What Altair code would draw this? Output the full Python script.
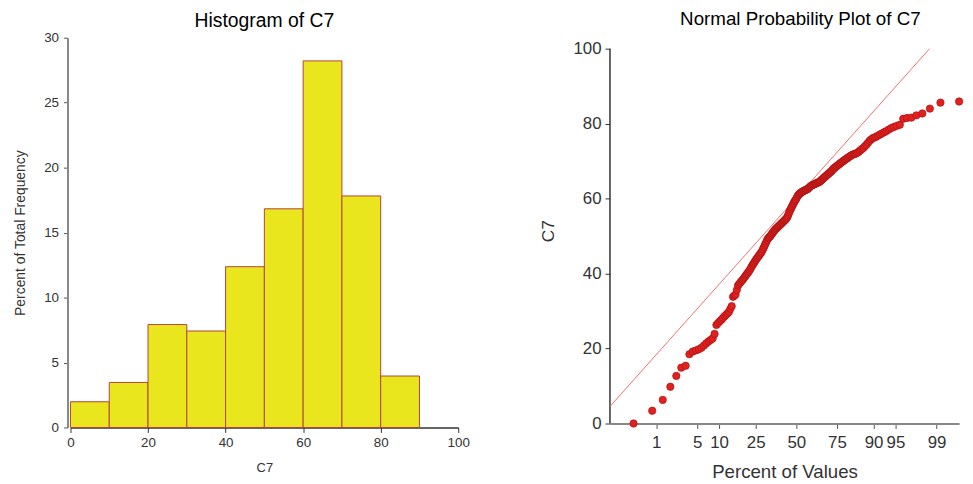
import altair as alt
import pandas as pd
from statistics import NormalDist

c7_values = [
    0.0, 3.4, 6.3, 9.8,
    12.7, 14.9, 15.4, 18.5, 19.2, 19.5, 19.8,
    20.2, 20.8, 21.4, 21.9, 22.3, 22.7, 23.9, 26.3, 26.8, 27.3, 27.7, 28.2, 28.6, 29.0, 29.4, 29.8,
    30.6, 31.3, 33.8, 34.1, 34.4, 35.6, 36.8, 37.2, 37.6, 38.0, 38.3, 38.7, 39.1, 39.5, 39.9,
    40.2, 40.6, 41.0, 41.5, 42.0, 42.4, 42.8, 43.2, 43.6, 44.0, 44.3, 44.6, 45.0, 45.3, 45.6, 46.0,
    46.5, 47.0, 47.5, 48.0, 48.5, 49.0, 49.4, 49.6, 49.8,
    50.1, 50.4, 50.7, 51.0, 51.3, 51.5, 51.8, 52.0, 52.2, 52.4, 52.6,
    52.8, 53.0, 53.2, 53.4, 53.6, 53.8, 54.0, 54.2, 54.4, 54.6, 54.9,
    55.3, 55.8, 56.3, 56.8, 57.2, 57.6, 58.0, 58.4, 58.8, 59.2, 59.5, 59.8,
    60.2, 60.6, 60.9, 61.1, 61.3, 61.5, 61.6, 61.8, 61.9, 62.0, 62.1, 62.2, 62.3, 62.4, 62.5,
    62.6, 62.8, 63.0, 63.2, 63.4, 63.5, 63.6, 63.7, 63.8, 63.9, 64.0, 64.1, 64.2, 64.3, 64.4, 64.5,
    64.7, 64.9, 65.1, 65.3, 65.5, 65.7, 65.9, 66.1, 66.3, 66.5, 66.7, 66.9, 67.1, 67.3,
    67.6, 67.9, 68.1, 68.3, 68.5, 68.7, 68.9, 69.1, 69.3, 69.5, 69.7, 69.9,
    70.1, 70.3, 70.5, 70.7, 70.9, 71.1, 71.3, 71.5, 71.7, 71.8, 71.9, 72.0, 72.2,
    72.4, 72.7, 73.0, 73.3, 73.6, 74.0, 74.4, 74.9,
    75.4, 75.8, 76.1, 76.3, 76.5, 76.8, 77.1, 77.4, 77.7, 78.0,
    78.4, 78.8, 79.1, 79.4, 79.7,
    81.3, 81.5, 81.6, 82.2, 82.7, 84.0, 85.6, 85.9,
]

hist_ticks_x = [0, 20, 40, 60, 80, 100]
hist_ticks_y = [0, 5, 10, 15, 20, 25, 30]
prob_pct_ticks = [1, 5, 10, 25, 50, 75, 90, 95, 99]
prob_ticks_y = [0, 20, 40, 60, 80, 100]
prob_y_axis_span = [0, 100]
ref_intercept = 60.2   # C7 value of the reference line at the 50th percentile
ref_slope = 18.0       # C7 units per standard normal unit
z_domain = [-3.092, 2.70]

FONT = "Liberation Sans"
HIST_H = 393
PROB_H = 389
PROB_W = 352
PROB_Y_TOP = 100 * PROB_H / 378.0   # headroom above 100 so the two panels' plot tops differ

df = pd.DataFrame({"C7": c7_values})

# ---------------- Histogram ----------------
hist = alt.Chart(df).transform_bin(
    as_=["bin_start", "bin_end"], field="C7", bin=alt.Bin(extent=[0, 100], step=10)
).transform_aggregate(
    cnt="count()", groupby=["bin_start", "bin_end"]
).transform_joinaggregate(
    total="sum(cnt)"
).transform_calculate(
    pct="datum.cnt / datum.total * 100"
).mark_bar(fill="#EAE61E", stroke="#B4423C", strokeWidth=1).encode(
    x=alt.X("bin_start:Q",
            scale=alt.Scale(domain=[0, 100], nice=False, zero=False),
            axis=alt.Axis(values=hist_ticks_x, title="C7", grid=False,
                          labelFont=FONT, labelFontSize=13.5, labelColor="#333333",
                          titleFont=FONT, titleFontSize=13, titleFontWeight="normal",
                          titleColor="#333333", titlePadding=13,
                          domainColor="#333333", domainWidth=1.5,
                          tickColor="#333333", tickSize=5, labelPadding=3,
                          labelFlush=False, labelOverlap=False)),
    x2="bin_end:Q",
    y=alt.Y("pct:Q",
            scale=alt.Scale(domain=[0, 30], nice=False),
            axis=alt.Axis(values=hist_ticks_y, title="Percent of Total Frequency", grid=False,
                          labelFont=FONT, labelFontSize=13.5, labelColor="#333333",
                          titleFont=FONT, titleFontSize=14, titleFontWeight="normal",
                          titleColor="#333333", titlePadding=16,
                          domainColor="#888888", domainWidth=2, offset=3,
                          tickColor="#555555", tickSize=4, labelPadding=5,
                          labelFlush=False, labelOverlap=False)),
    y2=alt.datum(0),
).properties(
    width=391, height=HIST_H,
    title=alt.TitleParams("Histogram of C7", font=FONT, fontSize=19.5,
                          fontWeight="normal", color="#000000", anchor="middle", offset=-1),
)

# ---------------- Normal probability plot ----------------
z_ticks = [NormalDist().inv_cdf(p / 100.0) for p in prob_pct_ticks]

x_enc = alt.X("z:Q",
              scale=alt.Scale(domain=z_domain, nice=False, zero=False),
              axis=alt.Axis(values=z_ticks, title="Percent of Values", grid=False,
                            labelExpr="'' + round(cumulativeNormal(datum.value) * 100)",
                            labelFont=FONT, labelFontSize=17, labelColor="#333333",
                            titleFont=FONT, titleFontSize=18.8, titleFontWeight="normal",
                            titleColor="#333333", titlePadding=12,
                            domainColor="#888888", domainWidth=2,
                            tickColor="#555555", tickSize=5, labelPadding=6,
                            labelFlush=False, labelOverlap=False))
y_enc = alt.Y("C7:Q",
              scale=alt.Scale(domain=[0, PROB_Y_TOP], nice=False),
              axis=alt.Axis(values=prob_ticks_y, title="C7", grid=False, domain=False,
                            labelFont=FONT, labelFontSize=17, labelColor="#333333",
                            titleFont=FONT, titleFontSize=17.5, titleFontWeight="normal",
                            titleColor="#333333", titlePadding=16,
                            tickColor="#333333", tickSize=5, labelPadding=4,
                            labelFlush=False, labelOverlap=False))

points = alt.Chart(df).transform_window(
    rk="row_number()", sort=[alt.SortField("C7", order="ascending")]
).transform_joinaggregate(
    n="count()"
).transform_calculate(
    z="quantileNormal((datum.rk - 0.3) / (datum.n + 0.4))"
).mark_circle(size=55, color="#E3201E", stroke="#A51515", strokeWidth=0.7, opacity=1).encode(
    x=x_enc, y=y_enc
)

# y-axis line from 0 to 100 only
axis_df = pd.DataFrame({"z": [z_domain[0]], "lo": [prob_y_axis_span[0]], "hi": [prob_y_axis_span[1]]})
y_axis_line = alt.Chart(axis_df).mark_rule(color="#333333", strokeWidth=1.5).encode(
    x=alt.X("z:Q"), y=alt.Y("lo:Q"), y2="hi:Q"
)

ref_df = pd.DataFrame({"z": [z_domain[0], (100 - ref_intercept) / ref_slope]})
ref_line = alt.Chart(ref_df).transform_calculate(
    C7=f"{ref_intercept} + {ref_slope} * datum.z"
).mark_line(color="#F07070", strokeWidth=1).encode(x=x_enc, y=y_enc)

prob = alt.layer(y_axis_line, ref_line, points).properties(
    width=PROB_W, height=PROB_H,
    title=alt.TitleParams("Normal Probability Plot of C7", font=FONT, fontSize=18.9,
                          fontWeight="normal", color="#000000", anchor="middle",
                          offset=9, dx=16),
)

chart = alt.hconcat(hist, prob, spacing=69).configure(
    background="white", padding={"left": 5, "top": 0, "right": 0, "bottom": 0},
    view=alt.ViewConfig(stroke=None),
)

chart.save("out.html", embed_options={"renderer": "svg", "actions": False})
